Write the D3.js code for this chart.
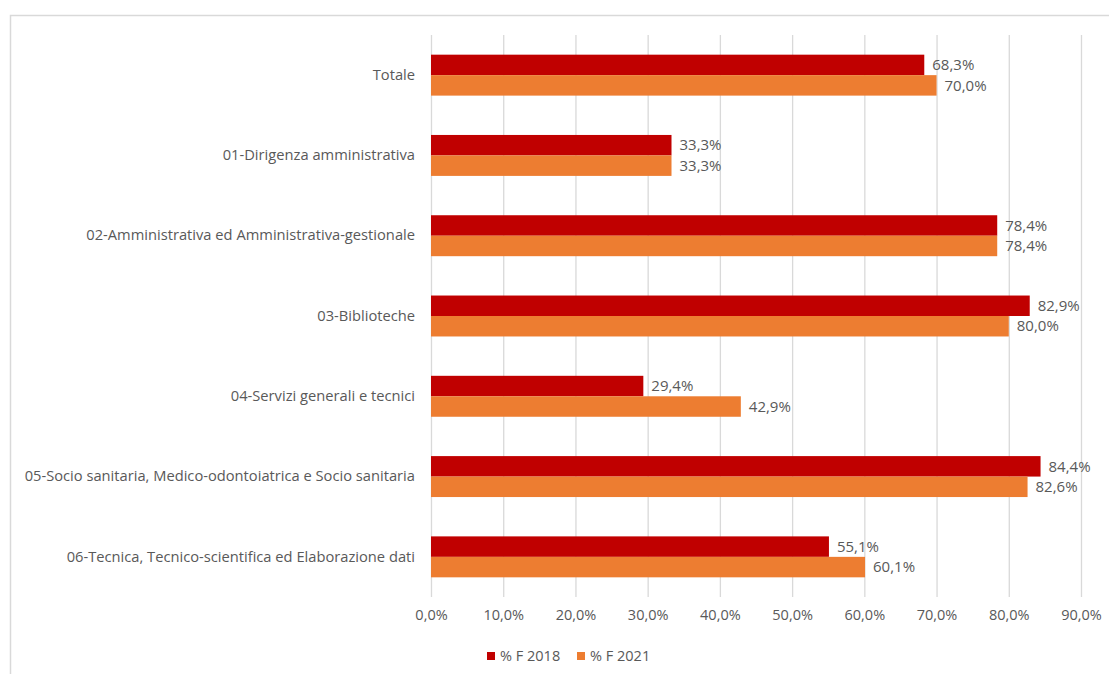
<!DOCTYPE html>
<html>
<head>
<meta charset="utf-8">
<script src="https://cdn.jsdelivr.net/npm/d3@7"></script>
<style>
  body { margin: 0; background: #fff; }
  text { font-family: "Open Sans", sans-serif; fill: #595959; }
</style>
</head>
<body>
<svg id="chart" width="1109" height="674"></svg>
<script>
let categories = [
    "Totale",
    "01-Dirigenza amministrativa",
    "02-Amministrativa ed Amministrativa-gestionale",
    "03-Biblioteche",
    "04-Servizi generali e tecnici",
    "05-Socio sanitaria, Medico-odontoiatrica e Socio sanitaria",
    "06-Tecnica, Tecnico-scientifica ed Elaborazione dati"
]
let f2018 = [68.3, 33.3, 78.4, 82.9, 29.4, 84.4, 55.1]
let f2021 = [70.0, 33.3, 78.4, 80.0, 42.9, 82.6, 60.1]
let seriesNames = ["% F 2018", "% F 2021"]
let xTicks = [0, 10, 20, 30, 40, 50, 60, 70, 80, 90]

let svg = d3.select("#chart")

// frame
svg.append("path")
    .attr("d", "M10.5,674 L10.5,15.5 L1109,15.5")
    .attr("fill", "none")
    .attr("stroke", "#d9d9d9")
    .attr("stroke-width", 1.5)

let margin = {top: 35, left: 431, right: 28, bottom: 77}
let width = 1109 - margin.left - margin.right
let height = 674 - margin.top - margin.bottom

let g = svg.append("g")
    .attr("transform", `translate(${margin.left}, ${margin.top})`)

let x = d3.scaleLinear()
    .domain([0, 90])
    .range([0, 650])

let y = d3.scaleBand()
    .domain(categories)
    .range([0, height])
    .paddingInner(0.49)
    .paddingOuter(0.245)

let color = d3.scaleOrdinal()
    .domain(seriesNames)
    .range(["#c00000", "#ed7d31"])

// gridlines
g.selectAll("line.grid")
    .data(xTicks)
    .join("line")
    .attr("class", "grid")
    .attr("x1", d => x(d) + 0.5)
    .attr("x2", d => x(d) + 0.5)
    .attr("y1", 0)
    .attr("y2", height)
    .attr("stroke", "#d9d9d9")
    .attr("stroke-width", 1.3)

let xAxis = d3.axisBottom(x)
    .tickValues(xTicks)
    .tickSize(0)
    .tickPadding(13)
    .tickFormat(d => d.toFixed(1).replace(".", ",") + "%")

g.append("g")
    .attr("transform", `translate(0, ${height})`)
    .call(xAxis)
    .call(a => a.select(".domain").remove())
    .selectAll("text")
    .style("font-size", "14.5px")
    .style("font-family", "'Open Sans', sans-serif")
    .attr("fill", "#595959")

let yAxis = d3.axisLeft(y).tickSize(0).tickPadding(16)

g.append("g")
    .call(yAxis)
    .call(a => a.select(".domain").remove())
    .selectAll("text")
    .style("font-size", "14.7px")
    .style("font-family", "'Open Sans', sans-serif")
    .attr("fill", "#595959")

let half = y.bandwidth() / 2
let series = [f2018, f2021]

series.forEach(function(vals, s) {
    let rows = categories.map((c, i) => ({cat: c, v: vals[i]}))
    g.selectAll("rect.s" + s)
        .data(rows)
        .join("rect")
        .attr("class", "s" + s)
        .attr("x", 0)
        .attr("y", d => y(d.cat) + s * half)
        .attr("width", d => x(d.v))
        .attr("height", half)
        .attr("fill", color(seriesNames[s]))

    g.selectAll("text.l" + s)
        .data(rows)
        .join("text")
        .attr("class", "l" + s)
        .attr("x", d => x(d.v) + 8)
        .attr("y", d => y(d.cat) + s * half + half / 2)
        .attr("dy", "0.35em")
        .style("font-size", "15px")
        .text(d => d.v.toFixed(1).replace(".", ",") + "%")
})

// legend
let legend = svg.append("g")
    .attr("transform", "translate(487, 656)")

let legendX = [0, 90]
seriesNames.forEach(function(name, i) {
    legend.append("rect")
        .attr("x", legendX[i])
        .attr("y", -4)
        .attr("width", 8)
        .attr("height", 8)
        .attr("fill", color(name))
    legend.append("text")
        .attr("x", legendX[i] + 13)
        .attr("y", 0)
        .attr("dy", "0.35em")
        .style("font-size", "14.5px")
        .text(name)
})
</script>
</body>
</html>
